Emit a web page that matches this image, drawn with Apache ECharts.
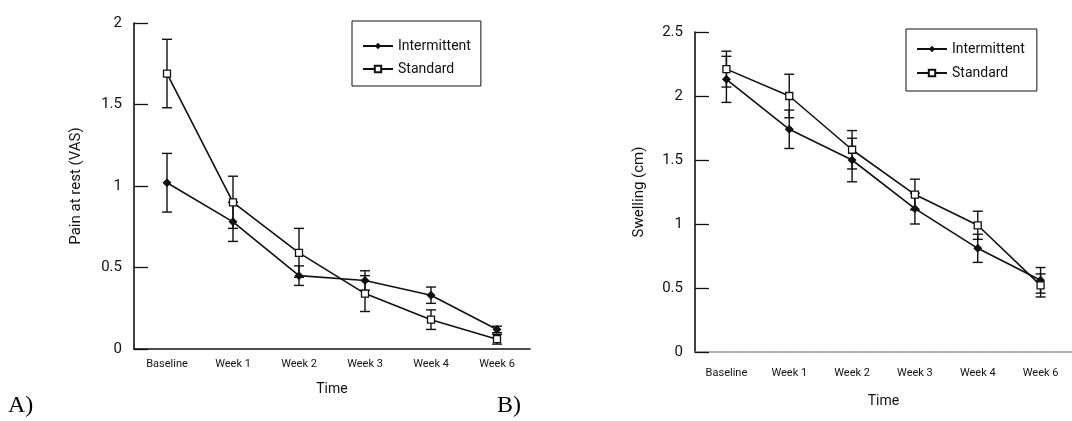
<!DOCTYPE html>
<html>
<head>
<meta charset="utf-8">
<script src="https://cdn.jsdelivr.net/npm/echarts@6/dist/echarts.min.js"></script>
<style>
  html, body { margin: 0; padding: 0; background: #fff; }
  #chart { width: 1072px; height: 421px; }
</style>
</head>
<body>
<div id="chart"></div>
<script>
const categories = ['Baseline', 'Week 1', 'Week 2', 'Week 3', 'Week 4', 'Week 6']

// panel A: pain at rest (VAS)
const painIntermittent = [1.02, 0.78, 0.45, 0.42, 0.33, 0.12]
const painIntermittentErr = [0.18, 0.12, 0.06, 0.06, 0.05, 0.02]
const painStandard = [1.69, 0.90, 0.59, 0.34, 0.18, 0.06]
const painStandardErr = [0.21, 0.16, 0.15, 0.11, 0.06, 0.03]

// panel B: swelling (cm)
const swellIntermittent = [2.13, 1.74, 1.50, 1.12, 0.81, 0.56]
const swellIntermittentErr = [0.18, 0.15, 0.17, 0.12, 0.11, 0.10]
const swellStandard = [2.21, 2.00, 1.58, 1.23, 0.99, 0.52]
const swellStandardErr = [0.14, 0.17, 0.15, 0.12, 0.11, 0.09]

const yTicksA = { min: 0, max: 2, interval: 0.5 }
const yTicksB = { min: 0, max: 2.5, interval: 0.5 }

const font = 'Roboto, "DejaVu Sans", sans-serif'
const ink = '#111'

function errData(values, errs) {
	return values.map((v, i) => [i, v + errs[i], v - errs[i]])
}

function errorBars(idx, values, errs) {
	return {
		type: 'custom',
		xAxisIndex: idx,
		yAxisIndex: idx,
		silent: true,
		z: 1,
		data: errData(values, errs),
		renderItem: function (params, api) {
			const top = api.coord([api.value(0), api.value(1)])
			const bot = api.coord([api.value(0), api.value(2)])
			const w = 5
			const st = { stroke: ink, lineWidth: 1.4 }
			return {
				type: 'group',
				children: [
					{ type: 'line', shape: { x1: top[0], y1: top[1], x2: bot[0], y2: bot[1] }, style: st },
					{ type: 'line', shape: { x1: top[0] - w, y1: top[1], x2: top[0] + w, y2: top[1] }, style: st },
					{ type: 'line', shape: { x1: bot[0] - w, y1: bot[1], x2: bot[0] + w, y2: bot[1] }, style: st },
				],
			}
		},
	}
}

function lineSeries(idx, name, values) {
	const filled = name === 'Intermittent'
	return {
		name: name,
		type: 'line',
		xAxisIndex: idx,
		yAxisIndex: idx,
		data: values,
		symbol: filled ? 'diamond' : 'rect',
		symbolSize: filled ? 9 : 7,
		z: 3,
		lineStyle: { color: ink, width: 1.6 },
		itemStyle: {
			color: filled ? ink : '#fff',
			borderColor: ink,
			borderWidth: filled ? 0 : 1.3,
		},
	}
}

function xAxis(idx, labelSize, labelMargin, nameGap, lineType) {
	return {
		type: 'category',
		gridIndex: idx,
		data: categories,
		boundaryGap: true,
		name: 'Time',
		nameLocation: 'middle',
		nameGap: nameGap,
		nameTextStyle: { fontFamily: font, fontSize: 14, color: ink },
		axisLine: { lineStyle: { color: lineType === 'solid' ? ink : '#888', width: 1.6, type: lineType } },
		axisTick: { inside: true, length: 13, lineStyle: { color: ink, width: 1.3 } },
		axisLabel: { fontFamily: font, fontSize: labelSize, color: ink, margin: labelMargin, interval: 0 },
		splitLine: { show: false },
	}
}

function yAxis(idx, ticks, name, nameGap) {
	return {
		type: 'value',
		gridIndex: idx,
		min: ticks.min,
		max: ticks.max,
		interval: ticks.interval,
		name: name,
		nameLocation: 'middle',
		nameRotate: 90,
		nameGap: nameGap,
		nameTextStyle: { fontFamily: font, fontSize: 15, color: ink },
		axisLine: { show: true, lineStyle: { color: ink, width: 1.6 } },
		axisTick: { show: true, inside: true, length: 14, lineStyle: { color: ink, width: 1.3 } },
		axisLabel: { fontFamily: font, fontSize: 15, color: ink, margin: 12 },
		splitLine: { show: false },
	}
}

function legend(left, top, gap, padding) {
	return {
		left: left,
		top: top,
		orient: 'vertical',
		data: ['Intermittent', 'Standard'],
		itemWidth: 30,
		itemHeight: 8,
		itemGap: gap,
		padding: padding,
		borderColor: ink,
		borderWidth: 1,
		selectedMode: false,
		textStyle: { fontFamily: font, fontSize: 14, color: ink },
	}
}

const chart = echarts.init(document.getElementById('chart'), null, { renderer: 'canvas' })

chart.setOption({
	backgroundColor: '#fff',
	animation: false,
	legend: [legend(352, 21, 9, [18, 10, 10, 10]), legend(906, 29, 10, [13, 12, 11, 10])],
	grid: [
		{ left: 134, top: 23, width: 396, height: 326 },
		{ left: 695, top: 32, width: 377, height: 320 },
	],
	xAxis: [xAxis(0, 11, 10, 33, 'solid'), xAxis(1, 11, 16, 42, 'dotted')],
	yAxis: [yAxis(0, yTicksA, 'Pain at rest (VAS)', 50), yAxis(1, yTicksB, 'Swelling (cm)', 48)],
	series: [
		errorBars(0, painIntermittent, painIntermittentErr),
		errorBars(0, painStandard, painStandardErr),
		lineSeries(0, 'Intermittent', painIntermittent),
		lineSeries(0, 'Standard', painStandard),
		errorBars(1, swellIntermittent, swellIntermittentErr),
		errorBars(1, swellStandard, swellStandardErr),
		lineSeries(1, 'Intermittent', swellIntermittent),
		lineSeries(1, 'Standard', swellStandard),
	],
	graphic: [
		{ type: 'text', left: 8, top: 394, style: { text: 'A)', font: '24px "Liberation Serif", serif', fill: '#000' } },
		{ type: 'text', left: 497, top: 394, style: { text: 'B)', font: '24px "Liberation Serif", serif', fill: '#000' } },
	],
})
</script>
</body>
</html>
